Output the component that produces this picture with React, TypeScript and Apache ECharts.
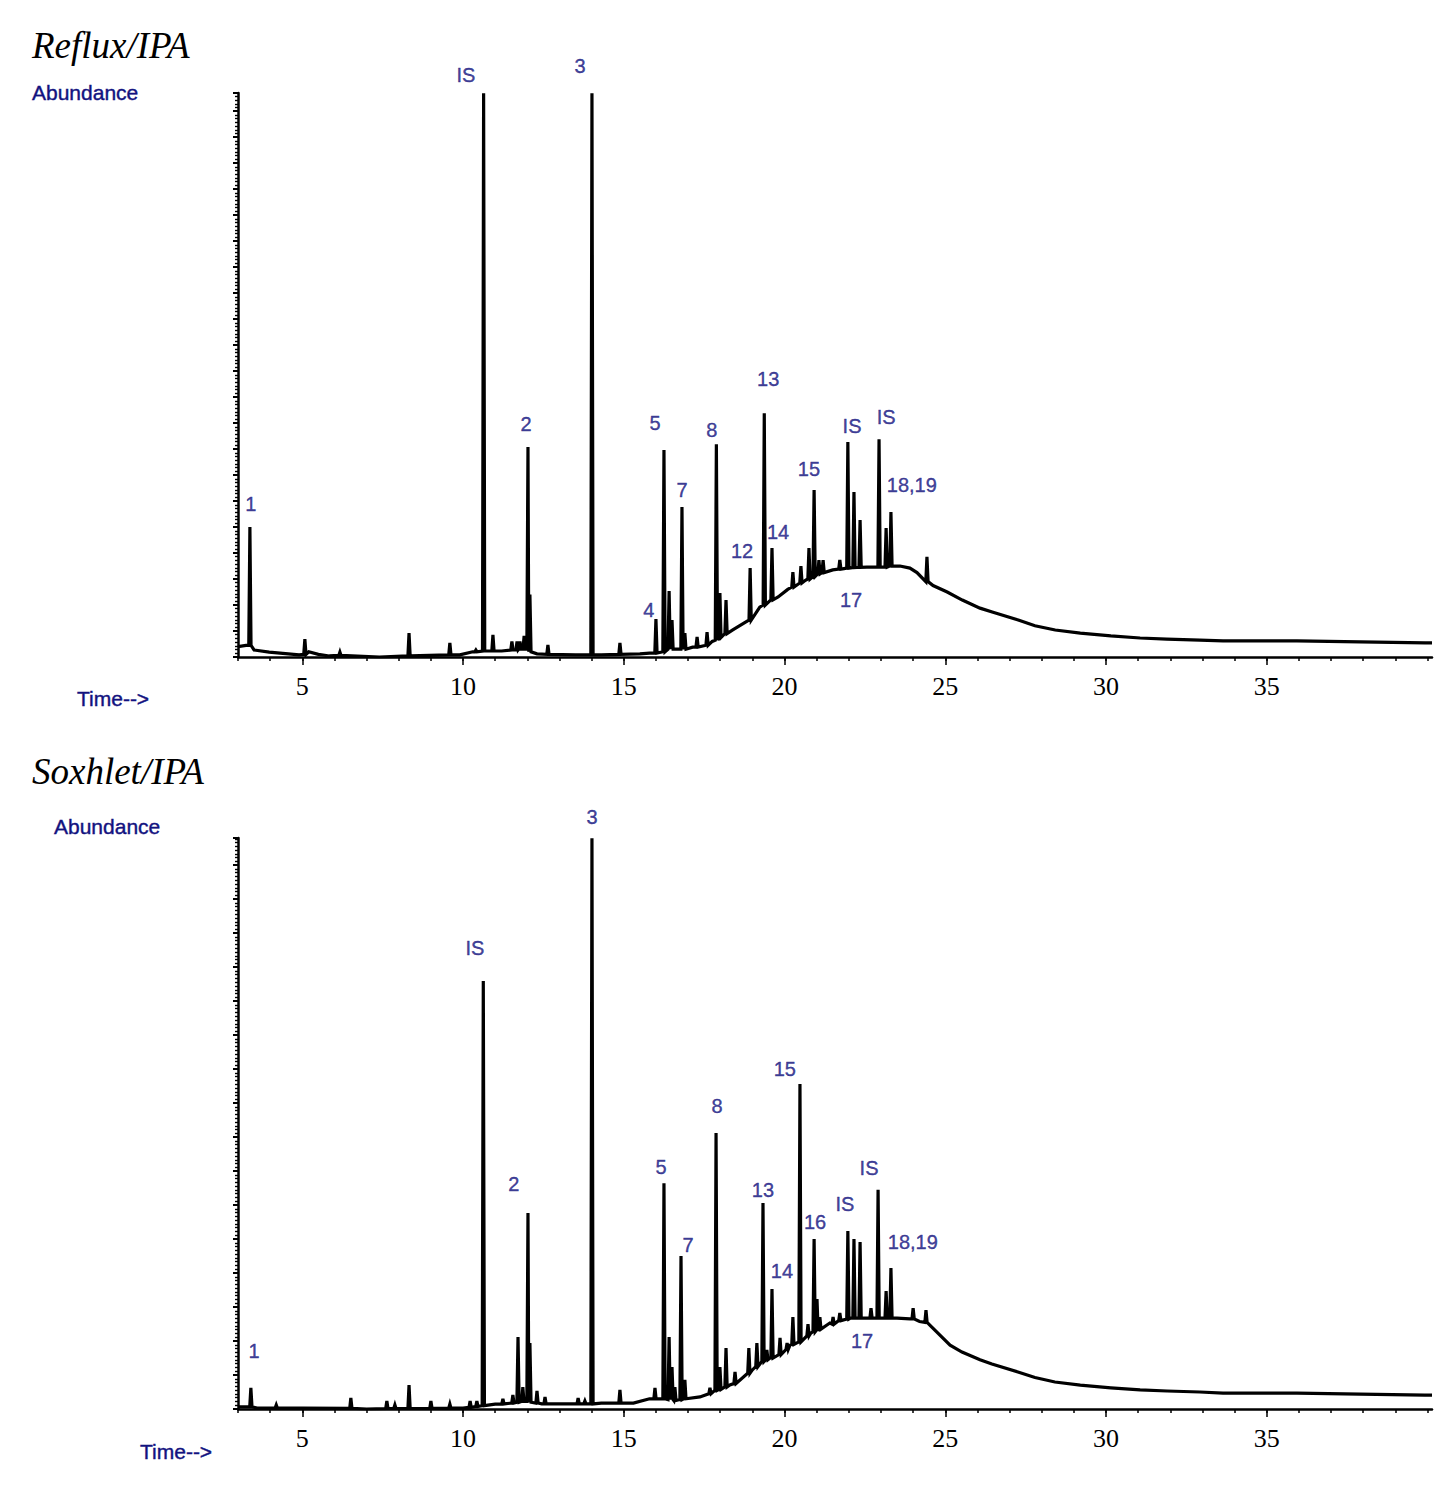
import React, { useEffect, useRef } from "react";
import * as echarts from "echarts";

// Retention-time axis (minutes)
const X_MIN = 3;
const X_MAX = 40.14;
const TIME_LABELS = [5, 10, 15, 20, 25, 30, 35];

// Half width (min) used to draw each chromatographic peak as a narrow spike
const PEAK_HALF_WIDTH = 0.035;

// ---------- Reflux/IPA ----------
// Baseline / unresolved hump: [time, abundance]
const refluxBaseline: [number, number][] = [
  [3.0, 0.4], [3.25, 0.45], [3.5, 0.27], [3.97, 0.19], [4.9, 0.08], [5.2, 0.2],
  [5.5, 0.1], [5.84, 0.04], [7.4, 0], [9.9, 0.08], [10.3, 0.2], [11.2, 0.23],
  [12.3, 0.12], [13.5, 0.08], [14.3, 0.08], [15.5, 0.12], [15.8, 0.15], [16.65, 0.3],
  [17.14, 0.38], [17.75, 0.6], [18.39, 1.04], [18.8, 1.35], [19.23, 1.92],
  [19.8, 2.31], [20.1, 2.6], [20.65, 2.95], [21.5, 3.35], [21.85, 3.4],
  [22.56, 3.46], [23.06, 3.46], [23.59, 3.5], [23.9, 3.42], [24.12, 3.25],
  [24.62, 2.75], [25.06, 2.5], [25.53, 2.19], [26.08, 1.88], [26.46, 1.73],
  [27.27, 1.42], [27.79, 1.2], [28.42, 1.04], [29.2, 0.92], [30.15, 0.81],
  [31.06, 0.73], [31.89, 0.69], [32.92, 0.65], [33.64, 0.62], [35.94, 0.62],
  [37.9, 0.58], [39.93, 0.54], [40.14, 0.54],
];
// Peaks: [time, apex abundance, base abundance]
const refluxPeaks: [number, number, number][] = [
  [3.37, 5.0, 0.45], [5.08, 0.69, 0.1], [6.17, 0.19, 0.06], [8.32, 0.92, 0.04],
  [9.59, 0.54, 0.08], [10.4, 0.27, 0.2], [10.64, 21.69, 0.23], [10.93, 0.85, 0.23],
  [11.52, 0.6, 0.27], [11.68, 0.6, 0.27], [11.77, 0.6, 0.3], [11.9, 0.81, 0.3],
  [12.02, 8.08, 0.3], [12.08, 2.4, 0.2], [12.64, 0.46, 0.1], [14.01, 21.69, 0.08],
  [14.88, 0.54, 0.1], [16.0, 1.46, 0.15], [16.25, 7.96, 0.2], [16.41, 2.54, 0.3],
  [16.5, 1.42, 0.3], [16.81, 5.77, 0.3], [16.9, 0.92, 0.3], [17.28, 0.77, 0.38],
  [17.59, 0.96, 0.45], [17.88, 8.19, 0.65], [17.99, 2.46, 0.75], [18.18, 2.19, 0.9],
  [18.93, 3.42, 1.42], [19.37, 9.38, 2.0], [19.61, 4.19, 2.2], [20.26, 3.27, 2.69],
  [20.51, 3.5, 2.85], [20.76, 4.19, 3.0], [20.92, 6.42, 3.1], [21.07, 3.73, 3.2],
  [21.2, 3.73, 3.25], [21.72, 3.73, 3.38], [21.97, 8.27, 3.42], [22.16, 6.35, 3.44],
  [22.35, 5.27, 3.45], [22.94, 8.38, 3.46], [23.16, 4.96, 3.46], [23.31, 5.58, 3.5],
  [24.43, 3.85, 2.9],
];
// Peak annotations: [time, abundance, text]
const refluxLabels: [number, number, string][] = [
  [3.4, 5.88, "1"], [10.09, 22.38, "IS"], [13.64, 22.73, "3"], [11.96, 8.96, "2"],
  [15.78, 1.81, "4"], [15.97, 9.0, "5"], [16.81, 6.42, "7"], [17.74, 8.73, "8"],
  [18.68, 4.08, "12"], [19.49, 10.69, "13"], [19.8, 4.81, "14"], [20.76, 7.23, "15"],
  [22.1, 8.88, "IS"], [23.16, 9.23, "IS"], [23.96, 6.62, "18,19"], [22.07, 2.19, "17"],
];
const REFLUX_Y_MAX = 21.7;

// ---------- Soxhlet/IPA ----------
const soxhletBaseline: [number, number][] = [
  [3.0, 0.12], [3.25, 0.12], [3.6, 0.06], [5.0, 0.06], [7.0, 0.0], [10.0, 0.06],
  [11.0, 0.29], [12.45, 0.3], [13.2, 0.3], [14.3, 0.35], [15.3, 0.35], [15.8, 0.6],
  [16.68, 0.53], [17.37, 0.71], [18.3, 1.41], [19.0, 2.3], [19.55, 3.0],
  [20.17, 3.76], [20.82, 4.47], [21.41, 5.06], [22.05, 5.35], [22.5, 5.35],
  [23.5, 5.35], [23.9, 5.3], [24.2, 5.15], [24.52, 4.94], [25.15, 3.76],
  [25.52, 3.35], [26.08, 2.9], [26.45, 2.65], [27.26, 2.18], [27.79, 1.85],
  [28.41, 1.59], [29.2, 1.4], [30.15, 1.24], [31.06, 1.12], [31.9, 1.06],
  [32.92, 1.0], [33.64, 0.94], [35.94, 0.94], [37.9, 0.88], [39.92, 0.82],
  [40.14, 0.82],
];
const soxhletPeaks: [number, number, number][] = [
  [3.4, 1.24, 0.12], [4.19, 0.24, 0.06], [6.51, 0.65, 0.04], [7.63, 0.47, 0.03],
  [7.88, 0.24, 0.03], [8.32, 1.41, 0.03], [9.0, 0.47, 0.04], [9.59, 0.29, 0.05],
  [10.22, 0.47, 0.1], [10.43, 0.47, 0.15], [10.63, 25.18, 0.2], [11.24, 0.59, 0.3],
  [11.55, 0.82, 0.35], [11.71, 4.24, 0.4], [11.86, 1.29, 0.45], [12.02, 11.53, 0.45],
  [12.08, 3.88, 0.4], [12.3, 1.06, 0.35], [12.55, 0.71, 0.3], [13.58, 0.65, 0.3],
  [13.79, 0.47, 0.3], [14.01, 33.59, 0.3], [14.88, 1.12, 0.35], [15.97, 1.24, 0.6],
  [16.25, 13.29, 0.6], [16.41, 4.24, 0.55], [16.5, 2.47, 0.55], [16.59, 1.29, 0.5],
  [16.78, 9.0, 0.55], [16.9, 1.71, 0.6], [17.68, 1.24, 0.9], [17.87, 16.24, 1.1],
  [17.99, 2.47, 1.15], [18.18, 3.59, 1.3], [18.46, 2.18, 1.5], [18.89, 3.59, 2.1],
  [19.14, 3.88, 2.5], [19.33, 12.12, 2.8], [19.45, 3.47, 2.9], [19.61, 7.06, 3.0],
  [19.86, 4.18, 3.2], [20.08, 3.88, 3.5], [20.26, 5.41, 3.8], [20.48, 19.12, 3.95],
  [20.73, 5.0, 4.3], [20.92, 10.0, 4.55], [21.01, 6.47, 4.6], [21.1, 5.41, 4.7],
  [21.51, 5.41, 5.0], [21.72, 5.65, 5.2], [21.97, 10.47, 5.3], [22.16, 10.0, 5.35],
  [22.35, 9.82, 5.35], [22.69, 5.94, 5.35], [22.91, 12.9, 5.35], [23.16, 6.94, 5.35],
  [23.31, 8.29, 5.35], [24.0, 5.94, 5.3], [24.4, 5.82, 5.1],
];
const soxhletLabels: [number, number, string][] = [
  [3.5, 3.41, "1"], [10.37, 27.12, "IS"], [14.01, 34.82, "3"], [11.58, 13.24, "2"],
  [16.16, 14.24, "5"], [17.0, 9.65, "7"], [17.9, 17.82, "8"], [19.33, 12.88, "13"],
  [19.92, 8.12, "14"], [20.01, 20.0, "15"], [20.95, 11.0, "16"], [21.88, 12.06, "IS"],
  [22.63, 14.18, "IS"], [23.99, 9.82, "18,19"], [22.41, 4.0, "17"],
];
const SOXHLET_Y_MAX = 33.6;

const NAVY = "#12127f";
const SANS = "'Liberation Sans', Arial, sans-serif";
const SERIF = "'Liberation Serif', 'Times New Roman', serif";

// Merge the baseline and the peak spikes into one ordered trace
function buildTrace(baseline: [number, number][], peaks: [number, number, number][]) {
  const pts: number[][] = baseline.map(([t, v]) => [t, v]);
  for (const [t, apex, base] of peaks) {
    pts.push([t - PEAK_HALF_WIDTH, base], [t, apex], [t + PEAK_HALF_WIDTH, base]);
  }
  pts.sort((a, b) => a[0] - b[0]);
  return pts;
}

function timeAxes(gridIndex: number) {
  return [
    {
      type: "value",
      gridIndex,
      min: X_MIN,
      max: X_MAX,
      interval: 1,
      axisLine: { show: true, onZero: false, lineStyle: { color: "#000", width: 2.5 } },
      axisTick: { show: true, length: 4, lineStyle: { color: "#000", width: 1.5 } },
      axisLabel: {
        show: true,
        margin: 16,
        fontSize: 26,
        fontFamily: SERIF,
        color: "#000",
        showMaxLabel: false,
        formatter: (v: number) =>
          TIME_LABELS.includes(Math.round(v)) && Math.abs(v - Math.round(v)) < 1e-6
            ? String(Math.round(v))
            : "",
      },
      splitLine: { show: false },
    },
    {
      type: "value",
      gridIndex,
      min: X_MIN,
      max: X_MAX,
      position: "bottom",
      axisLine: { show: false },
      axisTick: {
        show: true,
        length: 8,
        customValues: TIME_LABELS,
        lineStyle: { color: "#000", width: 1.5 },
      },
      axisLabel: { show: false },
      splitLine: { show: false },
    },
  ];
}

function abundanceAxis(gridIndex: number, max: number, interval: number, minorSplit: number) {
  return {
    type: "value",
    gridIndex,
    min: 0,
    max,
    interval,
    axisLine: { show: true, onZero: false, lineStyle: { color: "#000", width: 2.5 } },
    axisTick: { show: true, length: 5, lineStyle: { color: "#000", width: 2 } },
    minorTick: { show: true, splitNumber: minorSplit, length: 3, lineStyle: { color: "#000", width: 1.4 } },
    axisLabel: { show: false },
    splitLine: { show: false },
  };
}

function labelSeries(axisIdx: number, yIdx: number, labels: [number, number, string][]) {
  return {
    type: "scatter",
    xAxisIndex: axisIdx,
    yAxisIndex: yIdx,
    symbolSize: 0,
    clip: false,
    silent: true,
    data: labels.map(([t, v, s]) => ({ value: [t, v], name: s })),
    label: {
      show: true,
      position: "inside",
      formatter: "{b}",
      fontSize: 20,
      fontFamily: SANS,
      color: NAVY,
      textBorderColor: NAVY,
      textBorderWidth: 0.4,
    },
    z: 5,
  };
}

function traceSeries(axisIdx: number, yIdx: number, data: number[][]) {
  return {
    type: "line",
    xAxisIndex: axisIdx,
    yAxisIndex: yIdx,
    data,
    symbol: "none",
    showSymbol: false,
    lineStyle: { color: "#000", width: 3.2, join: "miter" },
    z: 3,
  };
}

function textEl(text: string, x: number, y: number, font: Record<string, any>) {
  return {
    type: "text",
    x,
    y,
    style: { text, verticalAlign: "middle", align: "left", ...font },
  };
}

export default function App() {
  const ref = useRef<HTMLDivElement>(null);

  useEffect(() => {
    if (!ref.current) return;
    const chart = echarts.init(ref.current, undefined, { renderer: "svg" });

    const titleFont = { fontSize: 37, fontStyle: "italic", fontFamily: SERIF, fill: "#000" };
    const navyFont = { fontSize: 21, fontFamily: SANS, fill: NAVY, stroke: NAVY, lineWidth: 0.4 };

    chart.setOption({
      animation: false,
      backgroundColor: "#fff",
      grid: [
        { left: 238, top: 93, width: 1194, height: 564, containLabel: false },
        { left: 238, top: 838, width: 1194, height: 571, containLabel: false },
      ],
      xAxis: [...timeAxes(0), ...timeAxes(1)],
      yAxis: [
        abundanceAxis(0, REFLUX_Y_MAX, 1, 7),
        abundanceAxis(1, SOXHLET_Y_MAX, 2, 9),
      ],
      series: [
        traceSeries(0, 0, buildTrace(refluxBaseline, refluxPeaks)),
        labelSeries(0, 0, refluxLabels),
        traceSeries(2, 1, buildTrace(soxhletBaseline, soxhletPeaks)),
        labelSeries(2, 1, soxhletLabels),
      ],
      graphic: [
        textEl("Reflux/IPA", 32, 45, titleFont),
        textEl("Abundance", 32, 92, navyFont),
        textEl("Time-->", 77, 698, navyFont),
        textEl("Soxhlet/IPA", 32, 771, titleFont),
        textEl("Abundance", 54, 826, navyFont),
        textEl("Time-->", 140, 1451, navyFont),
      ],
    });

    return () => chart.dispose();
  }, []);

  return (
    <div
      ref={ref}
      style={{ position: "absolute", left: 0, top: 0, width: 1438, height: 1501, background: "#fff" }}
    />
  );
}
